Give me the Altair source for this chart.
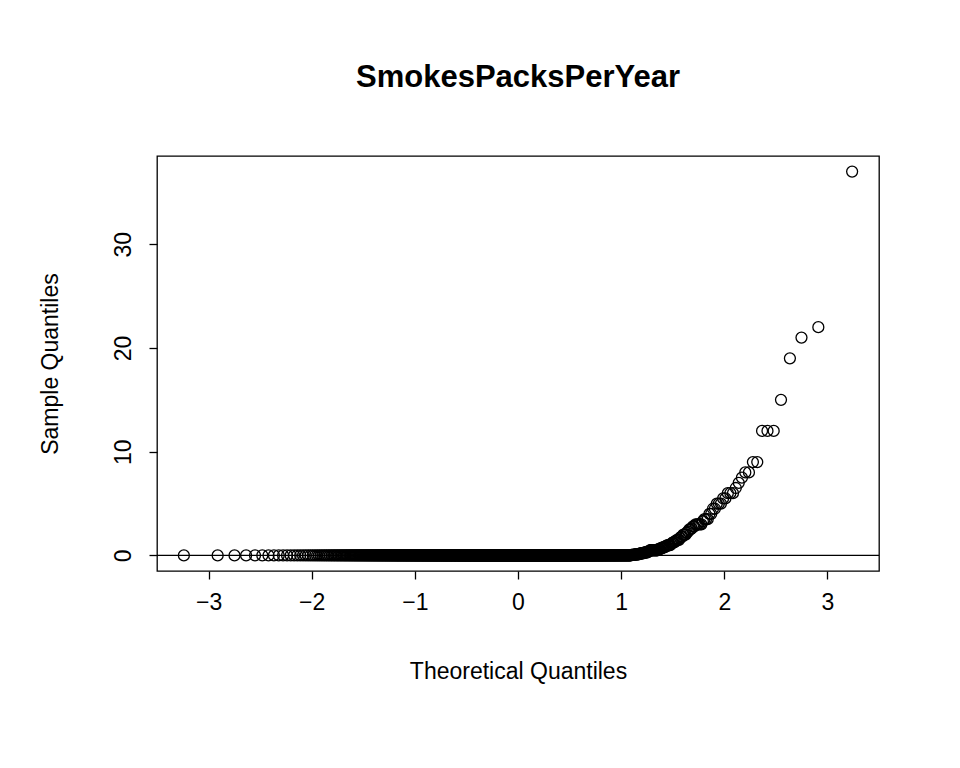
import altair as alt
import pandas as pd

n_zero = 721
positive_values = [
    37, 22, 21, 19, 15, 12, 12, 12, 9, 9,
    8, 8, 7.5, 7, 6.5, 6, 6, 6, 5.5, 5.5,
    5, 5, 5, 4.5, 4.5, 4, 4, 3.5, 3.5, 3.5,
    3.3, 3, 3, 3, 3, 3, 2.8, 2.8, 2.6, 2.5,
    2.5, 2.3, 2.2, 2, 2, 2, 1.8, 1.8, 1.7, 1.5,
    1.5, 1.5, 1.4, 1.3, 1.3, 1.2, 1.2, 1.1, 1, 1,
    1, 1, 0.9, 0.9, 0.8, 0.8, 0.8, 0.7, 0.7, 0.7,
    0.6, 0.6, 0.6, 0.5, 0.5, 0.5, 0.5, 0.5, 0.5, 0.5,
    0.5, 0.5, 0.5, 0.5, 0.4, 0.4, 0.4, 0.3, 0.3, 0.3,
    0.3, 0.3, 0.25, 0.25, 0.2, 0.2, 0.2, 0.2, 0.2, 0.15,
    0.15, 0.1, 0.1, 0.1, 0.1, 0.1, 0.1, 0.1, 0.05, 0.05,
    0.05, 0.05, 0.05, 0.05,
]
x_ticks = [-3, -2, -1, 0, 1, 2, 3]
y_ticks = [0, 10, 20, 30]

values = [0.0] * n_zero + positive_values
n = len(values)
df = pd.DataFrame({"sample": values})

FONT = "Liberation Sans"

points = (
    alt.Chart(df)
    .transform_window(rank="row_number()", sort=[alt.SortField("sample")])
    .transform_calculate(theo=f"quantileNormal((datum.rank - 0.5) / {n})")
    .mark_point(shape="circle", filled=False, color="black", size=120, strokeWidth=1.3, opacity=1)
    .encode(
        x=alt.X("theo:Q", scale=alt.Scale(domain=[-3.5, 3.5], nice=False, zero=False),
                axis=alt.Axis(values=x_ticks, title="Theoretical Quantiles", titlePadding=46,
                              labelPadding=12)),
        y=alt.Y("sample:Q", scale=alt.Scale(domain=[-1.5, 38.5], nice=False),
                axis=alt.Axis(values=y_ticks, title="Sample Quantiles", titlePadding=50,
                              labelAngle=-90, labelAlign="center", labelBaseline="bottom",
                              labelPadding=14)),
    )
)

zero_line = alt.Chart(pd.DataFrame({"y": [0]})).mark_rule(color="black", strokeWidth=1.3).encode(y="y:Q")

chart = (
    (zero_line + points)
    .properties(
        width=722, height=415,
        padding={"left": 149, "top": 148, "right": 73, "bottom": 189},
        autosize=alt.AutoSizeParams(type="none"),
        title=alt.TitleParams("SmokesPacksPerYear", fontSize=31, font=FONT, fontWeight="bold",
                              offset=62, anchor="middle", color="black"),
    )
    .configure_view(stroke="black", strokeWidth=1.3)
    .configure_axis(
        domain=False, tickColor="black", tickSize=8, tickWidth=1.3, grid=False,
        labelFont=FONT, labelFontSize=23, labelColor="black",
        titleFont=FONT, titleFontSize=23, titleFontWeight="normal", titleColor="black",
    )
)
chart.save("out.html", embed_options={"renderer": "svg", "actions": False})
